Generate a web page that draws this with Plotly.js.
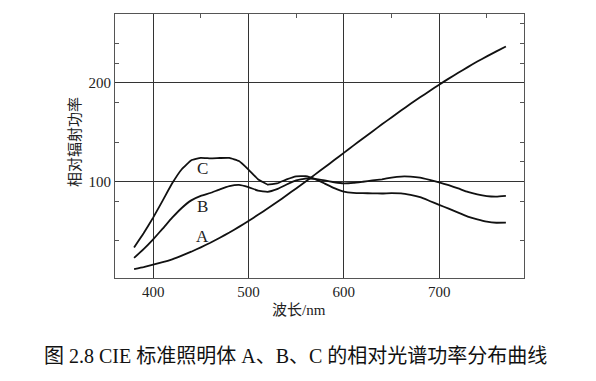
<!DOCTYPE html>
<html>
<head>
<meta charset="utf-8">
<script src="https://cdn.plot.ly/plotly-3.0.1.min.js"></script>
<style>html,body{margin:0;padding:0;background:#fff;}#chart{width:596px;height:381px;}</style>
</head>
<body>
<div id="chart"></div>
<script>
const wavelength = [380,390,400,410,420,430,440,450,460,470,480,490,500,510,520,530,540,550,560,570,580,590,600,610,620,630,640,650,660,670,680,690,700,710,720,730,740,750,760,770];
const seriesA = [11,13,15.5,18,21,24.7,28.7,33.1,37.8,42.9,48.2,53.9,59.9,66.1,72.5,79.1,86,92.9,100,107.2,114.4,121.7,129,136.4,143.6,150.8,158,165,172,178.8,185.4,191.9,198.3,204.4,210.4,216.1,221.7,227,232.1,237];
const seriesB = [22.4,31.3,41.3,52.1,63.2,73.1,80.8,85.4,88.3,92,95.2,96.5,94.2,90.7,89.5,92.2,96.9,101,102.8,102.6,101,99.2,98,98.5,99.7,101,102.2,103.9,105,104.9,103.9,101.6,99.1,96.2,92.9,89.4,86.9,85.2,84.7,85.4];
const seriesC = [33,47.4,63.3,80.6,98.1,112.4,121.5,124,123.5,123.8,123.9,120.7,112.1,102.3,96.9,98,102.1,105.2,105.3,102.3,97.8,93.2,89.7,88.4,88.1,88,87.8,88.2,87.9,86.3,84,80.2,76.3,72.4,68.3,64.4,61.5,59.2,58.1,58.2];
const curveLabels = ['A','B','C'];
const labelX = [452,452,452];
const labelY = [44.5,75,112.8];
const xTickVals = [400,500,600,700];
const yTickVals = [100,200];
const xMinorTop = [450,550,650,750];
const yMinorLeft = [40,80,140,180,220,240];
const yMinorRight = [40,80,120,140,180,220,240,260];
const xTitle = '波长/nm';
const yTitle = '相对辐射功率';
const caption = '图 2.8 CIE 标准照明体 A、B、C 的相对光谱功率分布曲线';

const serif = "'Liberation Serif', 'Noto Sans CJK SC', serif";
const lineStyle = {color:'#111', width:1.8, shape:'spline', smoothing:0.3};
const traces = [seriesA, seriesB, seriesC].map(s => ({
  x: wavelength, y: s, type:'scatter', mode:'lines', line: lineStyle, hoverinfo:'skip', showlegend:false
}));
traces.push({x:[wavelength[0]], y:[seriesA[0]], xaxis:'x2', yaxis:'y2', mode:'markers', marker:{opacity:0}, showlegend:false, hoverinfo:'skip'});

const xRange = [360, 789];
const yRange = [2, 270];
const axisCommon = {showline:true, linecolor:'#555', linewidth:1, zeroline:false};

const ann = (o) => Object.assign({showarrow:false, xanchor:'center', yanchor:'middle'}, o);
const annotations = curveLabels.map((t,i) => ann({
  x: labelX[i], y: labelY[i], xref:'x', yref:'y', text:t,
  font:{family:serif, size:17, color:'#222'}
}));
annotations.push(ann({x:0.45, y:-0.121, xref:'paper', yref:'paper', text:xTitle, font:{family:serif, size:15, color:'#222'}}));
annotations.push(ann({x:-0.098, y:0.515, xref:'paper', yref:'paper', text:yTitle, textangle:-90, font:{family:serif, size:15, color:'#222'}}));
annotations.push(ann({x:0.4425, y:-0.2955, xref:'paper', yref:'paper', text:caption, font:{family:serif, size:20, color:'#111'}}));

const layout = {
  width:596, height:381,
  margin:{l:115, r:72, t:14, b:103},
  paper_bgcolor:'#fff', plot_bgcolor:'#fff',
  showlegend:false,
  xaxis: Object.assign({}, axisCommon, {
    range:xRange, tickvals:xTickVals, ticks:'', showgrid:true, gridcolor:'#333', gridwidth:1,
    tickfont:{family:serif, size:15, color:'#222'}, mirror:true
  }),
  yaxis: Object.assign({}, axisCommon, {
    range:yRange, tickvals:yTickVals, ticks:'', showgrid:true, gridcolor:'#333', gridwidth:1,
    tickfont:{family:serif, size:15, color:'#222'}, mirror:true,
    minor:{tickvals:yMinorLeft, ticks:'inside', ticklen:4, tickcolor:'#555', showgrid:false}
  }),
  xaxis2: {overlaying:'x', side:'top', range:xRange, tickvals:xMinorTop, ticktext:xMinorTop.map(()=>''), ticks:'inside', ticklen:4, tickcolor:'#555', showgrid:false, showline:false, zeroline:false, anchor:'y2'},
  yaxis2: {overlaying:'y', side:'right', range:yRange, tickvals:yMinorRight, ticktext:yMinorRight.map(()=>''), ticks:'inside', ticklen:4, tickcolor:'#555', showgrid:false, showline:false, zeroline:false, anchor:'x2'},
  annotations: annotations
};
Plotly.newPlot('chart', traces, layout, {staticPlot:true, displayModeBar:false});
</script>
</body>
</html>
